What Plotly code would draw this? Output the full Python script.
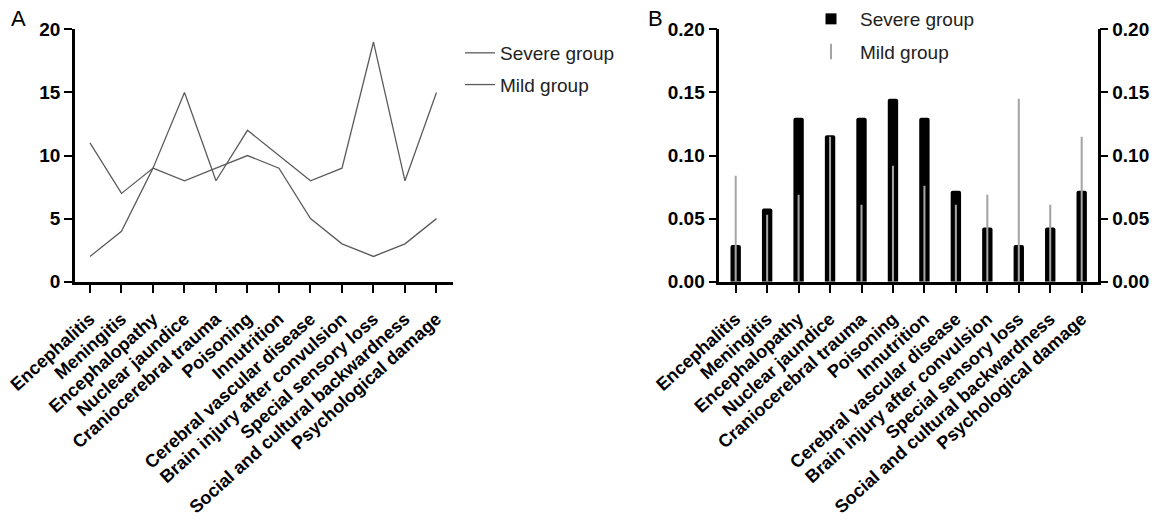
import plotly.graph_objects as go

categories = ["Encephalitis", "Meningitis", "Encephalopathy", "Nuclear jaundice",
              "Craniocerebral trauma", "Poisoning", "Innutrition",
              "Cerebral vascular disease", "Brain injury after convulsion",
              "Special sensory loss", "Social and cultural backwardness",
              "Psychological damage"]

# Panel A: counts
severe_counts = [2, 4, 9, 8, 9, 10, 9, 5, 3, 2, 3, 5]
mild_counts = [11, 7, 9, 15, 8, 12, 10, 8, 9, 19, 8, 15]

# Panel B: proportions
severe_prop = [0.029, 0.058, 0.130, 0.116, 0.130, 0.145, 0.130, 0.072, 0.043, 0.029, 0.043, 0.072]
mild_prop = [0.084, 0.053, 0.069, 0.115, 0.061, 0.092, 0.076, 0.061, 0.069, 0.145, 0.061, 0.115]

a_ticks = [0, 5, 10, 15, 20]
b_ticks = [0.00, 0.05, 0.10, 0.15, 0.20]

FONT = "Liberation Sans, Arial, sans-serif"
W, H = 1154, 527
LINE_COL = "#5c5c5c"

fig = go.Figure()

fig.add_trace(go.Scatter(x=categories, y=severe_counts, mode="lines", name="Severe group",
                         line=dict(color=LINE_COL, width=1.3), xaxis="x", yaxis="y",
                         legend="legend", legendgroup="s"))
fig.add_trace(go.Scatter(x=categories, y=mild_counts, mode="lines", name="Mild group",
                         line=dict(color=LINE_COL, width=1.3), xaxis="x", yaxis="y",
                         legend="legend", legendgroup="m"))

fig.add_trace(go.Bar(x=categories, y=severe_prop, name="Severe group", width=0.33,
                     marker=dict(color="black", line=dict(width=0), cornerradius=2),
                     xaxis="x2", yaxis="y2", showlegend=False))
fig.add_trace(go.Bar(x=categories, y=mild_prop, name="Mild group", width=0.065,
                     marker=dict(color="#a4a4a4", line=dict(width=0)),
                     xaxis="x2", yaxis="y3", showlegend=False))
# legend entries for panel B
fig.add_trace(go.Scatter(x=[None], y=[None], mode="markers", name="Severe group",
                         marker=dict(symbol="square", size=11, color="black"),
                         xaxis="x2", yaxis="y2", legend="legend2", legendgroup="bs"))
fig.add_trace(go.Scatter(x=[None], y=[None], mode="markers", name="Mild group",
                         marker=dict(symbol="line-ns", size=11, color="#a4a4a4",
                                     line=dict(color="#a4a4a4", width=2)),
                         xaxis="x2", yaxis="y2", legend="legend2", legendgroup="bm"))

tickfont = dict(family=FONT, size=19, color="black", weight="bold")
xtickfont = dict(family=FONT, size=18, color="black", weight="bold")

def px_x(p):
    return p / W

def px_y(p):
    return 1 - p / H

ydom = [px_y(281.7), px_y(29.4)]
common_x = dict(type="category", categoryorder="array", categoryarray=categories,
                tickangle=-42, tickfont=xtickfont, showline=True, linecolor="black",
                linewidth=2.5, ticks="outside", ticklen=9, tickwidth=2, tickcolor="black",
                ticklabelstandoff=8,
                showgrid=False, zeroline=False, automargin=False)
common_y = dict(showline=True, linecolor="black", linewidth=2.5, ticks="outside",
                ticklen=8, tickwidth=2, tickcolor="black", showgrid=False, zeroline=False,
                tickfont=tickfont, automargin=False, domain=ydom)

fig.update_layout(
    width=W, height=H,
    margin=dict(l=0, r=0, t=0, b=0),
    paper_bgcolor="white", plot_bgcolor="white",
    barmode="overlay",
    font=dict(family=FONT, color="black"),
    xaxis=dict(domain=[px_x(75), px_x(453)], range=[-0.476, 11.524], anchor="y", **common_x),
    yaxis=dict(range=[0, 20], tickvals=a_ticks, ticktext=[str(v) for v in a_ticks],
               anchor="x", **common_y),
    xaxis2=dict(domain=[px_x(719.3), px_x(1097.7)], range=[-0.521, 11.509], anchor="y2", **common_x),
    yaxis2=dict(range=[0, 0.2], tickvals=b_ticks, ticktext=[f"{v:.2f}" for v in b_ticks],
                anchor="x2", **common_y),
    yaxis3=dict(range=[0, 0.2], tickvals=b_ticks, ticktext=[f"{v:.2f}" for v in b_ticks],
                anchor="x2", overlaying="y2", side="right", **common_y),
    legend=dict(x=px_x(460), y=px_y(34), xanchor="left", yanchor="top",
                font=dict(family=FONT, size=19, color="#222222"),
                bgcolor="rgba(0,0,0,0)", borderwidth=0, traceorder="grouped",
                tracegroupgap=4, itemwidth=30),
    legend2=dict(x=px_x(802), y=px_y(0), xanchor="left", yanchor="top",
                 font=dict(family=FONT, size=19, color="#222222"),
                 bgcolor="rgba(0,0,0,0)", borderwidth=0, traceorder="grouped",
                 tracegroupgap=5, itemwidth=48),
    annotations=[
        dict(text="A", x=px_x(9), y=px_y(18), xref="paper", yref="paper",
             xanchor="left", yanchor="middle", showarrow=False,
             font=dict(family=FONT, size=22, color="black")),
        dict(text="B", x=px_x(646), y=px_y(18), xref="paper", yref="paper",
             xanchor="left", yanchor="middle", showarrow=False,
             font=dict(family=FONT, size=22, color="black")),
    ],
)

fig.write_html("out.html")
